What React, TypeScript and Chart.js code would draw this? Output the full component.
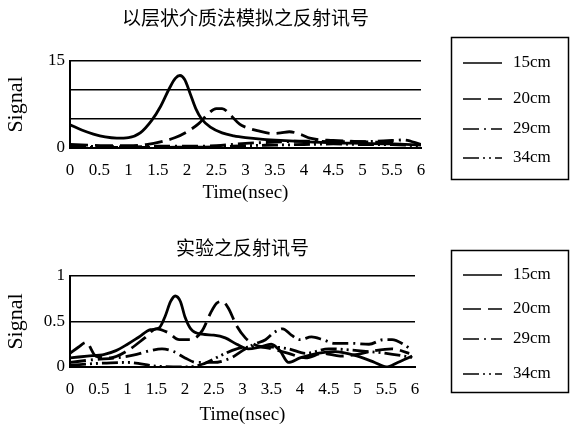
import React, { useEffect, useRef } from "react";
import { Chart, registerables } from "chart.js";
Chart.register(...registerables);

const seriesLabels = ["15cm", "20cm", "29cm", "34cm"];

const simTitle = "以层状介质法模拟之反射讯号";
const expTitle = "实验之反射讯号";
const xTitle = "Time(nsec)";
const yTitle = "Signal";

// Simulated (layered medium) signals
const sim15T = [0, 0.2, 0.4, 0.6, 0.8, 1.0, 1.2, 1.4, 1.55, 1.7, 1.8, 1.88, 1.96, 2.05, 2.15, 2.25, 2.4, 2.6, 2.8, 3.0, 3.3, 3.6, 4.0, 4.5, 5.0, 5.5, 6.0];
const sim15V = [4.0, 3.1, 2.4, 1.9, 1.7, 1.8, 2.6, 4.8, 7.2, 10.3, 12.0, 12.5, 11.8, 9.5, 6.8, 5.0, 3.6, 2.6, 2.1, 1.8, 1.5, 1.3, 1.1, 0.9, 0.8, 0.7, 0.5];
const sim20T = [0, 0.3, 0.6, 1.0, 1.3, 1.6, 1.8, 2.0, 2.2, 2.35, 2.5, 2.6, 2.75, 2.9, 3.0, 3.2, 3.45, 3.6, 3.75, 3.95, 4.1, 4.5, 5.0, 5.3, 5.65];
const sim20V = [0.6, 0.5, 0.4, 0.4, 0.6, 1.2, 1.8, 2.8, 4.2, 5.8, 6.8, 6.8, 5.6, 4.1, 3.6, 3.0, 2.5, 2.6, 2.8, 2.3, 1.7, 1.3, 1.1, 1.0, 1.2];
const sim29T = [0, 0.5, 1.0, 1.5, 2.0, 2.5, 3.0, 3.5, 4.0, 4.5, 5.0, 5.5, 5.7, 6.0];
const sim29V = [0.3, 0.25, 0.2, 0.3, 0.3, 0.4, 0.8, 1.0, 1.2, 1.1, 1.1, 1.3, 1.4, 0.6];
const sim34T = [0, 0.5, 1.0, 1.5, 2.0, 2.5, 3.0, 3.5, 4.0, 4.5, 5.0, 5.5, 6.0];
const sim34V = [0.1, 0.1, 0.1, 0.1, 0.15, 0.2, 0.4, 0.5, 0.6, 0.7, 0.6, 0.6, 0.3];

// Experimental signals
const exp15T = [0, 0.3, 0.6, 0.8, 1.0, 1.2, 1.4, 1.55, 1.65, 1.75, 1.83, 1.92, 2.0, 2.1, 2.3, 2.5, 2.7, 2.9, 3.1, 3.3, 3.5, 3.65, 3.8, 4.0, 4.3, 4.6, 5.0, 5.3, 5.5, 5.7, 5.95];
const exp15V = [0.1, 0.12, 0.14, 0.18, 0.25, 0.33, 0.41, 0.43, 0.55, 0.72, 0.78, 0.72, 0.55, 0.42, 0.36, 0.35, 0.32, 0.25, 0.2, 0.22, 0.25, 0.18, 0.05, 0.1, 0.15, 0.17, 0.12, 0.05, 0.0, 0.05, 0.12];
const exp20T = [0, 0.15, 0.28, 0.45, 0.7, 1.0, 1.3, 1.5, 1.7, 1.9, 2.1, 2.3, 2.45, 2.55, 2.65, 2.75, 2.9, 3.05, 3.2, 3.5, 3.8, 4.1, 4.4, 4.7, 5.0, 5.3, 5.6, 5.9];
const exp20V = [0.15, 0.22, 0.27, 0.12, 0.1, 0.18, 0.32, 0.42, 0.38, 0.3, 0.3, 0.4, 0.6, 0.7, 0.72, 0.65, 0.45, 0.32, 0.25, 0.2, 0.15, 0.1, 0.15, 0.12, 0.14, 0.18, 0.2, 0.15];
const exp29T = [0, 0.4, 0.8, 1.1, 1.4, 1.6, 1.8, 2.0, 2.2, 2.5, 2.8, 3.0, 3.2, 3.4, 3.55, 3.7, 3.85, 4.0, 4.2, 4.4, 4.6, 4.9, 5.2, 5.45, 5.6, 5.8, 5.95];
const exp29V = [0.05, 0.08, 0.1, 0.13, 0.18, 0.2, 0.17, 0.1, 0.05, 0.05, 0.1, 0.18, 0.25, 0.3, 0.38, 0.42, 0.35, 0.3, 0.33, 0.3, 0.26, 0.26, 0.25, 0.3, 0.3, 0.25, 0.18];
const exp34T = [0, 0.5, 1.0, 1.5, 2.0, 2.3, 2.6, 2.9, 3.2, 3.5, 3.8, 4.1, 4.5, 5.0, 5.5, 6.0];
const exp34V = [0.02, 0.04, 0.05, 0.01, 0.0, 0.03, 0.12, 0.2, 0.22, 0.22, 0.2, 0.15, 0.2, 0.18, 0.15, 0.1];

const dashes = [[], [18, 7], [16, 5, 2, 5], [16, 4, 2, 4, 2, 4]];

const SERIF = "'Liberation Serif', 'Times New Roman', serif";
const CJK = "'Noto Sans CJK SC', sans-serif";

function zip(t: number[], v: number[]) {
  return t.map((x, i) => ({ x, y: v[i] }));
}

function makeDatasets(series: [number[], number[]][]) {
  return series.map(([t, v], i) => ({
    label: seriesLabels[i],
    data: zip(t, v),
    borderColor: "#000",
    borderWidth: 2.8,
    borderDash: dashes[i],
    pointRadius: 0,
    fill: false,
    cubicInterpolationMode: "monotone" as const,
  }));
}

function legendPlugin(box: [number, number, number, number], rows: number[]) {
  return {
    id: "boxLegend",
    afterDraw(chart: any) {
      const ctx = chart.ctx as CanvasRenderingContext2D;
      ctx.save();
      ctx.strokeStyle = "#000";
      ctx.lineWidth = 1.5;
      ctx.setLineDash([]);
      ctx.strokeRect(box[0], box[1], box[2], box[3]);
      chart.data.datasets.forEach((ds: any, i: number) => {
        const y = rows[i];
        ctx.setLineDash(ds.borderDash || []);
        ctx.lineWidth = 1.6;
        ctx.beginPath();
        ctx.moveTo(463, y);
        ctx.lineTo(502, y);
        ctx.stroke();
        ctx.setLineDash([]);
        ctx.font = `17px ${SERIF}`;
        ctx.fillStyle = "#000";
        ctx.textBaseline = "middle";
        ctx.textAlign = "left";
        ctx.fillText(ds.label, 513, y);
      });
      ctx.restore();
    },
  };
}

type Cfg = {
  title: string;
  titlePad: { top: number; bottom: number };
  series: [number[], number[]][];
  yMax: number;
  yStep: number;
  yLabel: (v: number) => string;
  rightPad: number;
  xAxisHeight: number;
  xTitlePadBottom: number;
  box: [number, number, number, number];
  rows: number[];
};

function SignalChart({ cfg, top }: { cfg: Cfg; top: number }) {
  const ref = useRef<HTMLCanvasElement | null>(null);
  useEffect(() => {
    if (!ref.current) return;
    const chart = new Chart(ref.current, {
      type: "line",
      data: { datasets: makeDatasets(cfg.series) as any },
      plugins: [legendPlugin(cfg.box, cfg.rows)],
      options: {
        animation: false,
        responsive: false,
        devicePixelRatio: 1,
        layout: { padding: { left: 0, right: cfg.rightPad, top: 0, bottom: 0 } },
        plugins: {
          legend: { display: false },
          tooltip: { enabled: false },
          title: {
            display: true,
            text: cfg.title,
            fullSize: false,
            color: "#000",
            font: { family: CJK, size: 19, weight: "normal" },
            padding: cfg.titlePad,
          },
        },
        scales: {
          x: {
            type: "linear",
            min: 0,
            max: 6,
            afterFit: (s: any) => {
              s.height = cfg.xAxisHeight;
            },
            ticks: {
              stepSize: 0.5,
              color: "#000",
              padding: 4,
              maxRotation: 0,
              autoSkip: false,
              font: { family: SERIF, size: 17 },
              callback: (v: any) => String(Math.round(Number(v) * 10) / 10),
            },
            grid: { display: false },
            border: { display: true, color: "#000", width: 2 },
            title: {
              display: true,
              text: xTitle,
              color: "#000",
              font: { family: SERIF, size: 19 },
              padding: { top: 0, bottom: cfg.xTitlePadBottom },
            },
          },
          y: {
            type: "linear",
            min: 0,
            max: cfg.yMax,
            afterFit: (s: any) => {
              s.width = 70;
            },
            ticks: {
              stepSize: cfg.yStep,
              color: "#000",
              padding: 5,
              font: { family: SERIF, size: 17 },
              callback: (v: any) => cfg.yLabel(Number(v)),
            },
            grid: { color: "#000", lineWidth: 1.4, drawTicks: false },
            border: { display: true, color: "#000", width: 2 },
            title: {
              display: true,
              text: yTitle,
              color: "#000",
              font: { family: SERIF, size: 22 },
              padding: { top: 3, bottom: 0 },
            },
          },
        },
      },
    });
    return () => chart.destroy();
  }, [cfg]);
  return (
    <canvas
      ref={ref}
      width={570}
      height={214}
      style={{ position: "absolute", left: 0, top, width: 570, height: 214 }}
    />
  );
}

const simCfg: Cfg = {
  title: simTitle,
  titlePad: { top: 6, bottom: 32.2 },
  series: [
    [sim15T, sim15V],
    [sim20T, sim20V],
    [sim29T, sim29V],
    [sim34T, sim34V],
  ],
  yMax: 15,
  yStep: 5,
  yLabel: (v) => (v === 0 || v === 15 ? String(v) : ""),
  rightPad: 149,
  xAxisHeight: 66,
  xTitlePadBottom: 10,
  box: [451.5, 37.5, 117, 142],
  rows: [63, 99, 129, 158],
};

const expCfg: Cfg = {
  title: expTitle,
  titlePad: { top: 22.6, bottom: 16.6 },
  series: [
    [exp15T, exp15V],
    [exp20T, exp20V],
    [exp29T, exp29V],
    [exp34T, exp34V],
  ],
  yMax: 1,
  yStep: 0.5,
  yLabel: (v) => String(v),
  rightPad: 155,
  xAxisHeight: 61,
  xTitlePadBottom: 1.6,
  box: [451.5, 36.5, 117, 142],
  rows: [61, 95, 125, 160],
};

export default function App() {
  return (
    <div style={{ position: "absolute", left: 0, top: 0, width: 570, height: 428, background: "#fff" }}>
      <SignalChart cfg={simCfg} top={0} />
      <SignalChart cfg={expCfg} top={214} />
    </div>
  );
}
